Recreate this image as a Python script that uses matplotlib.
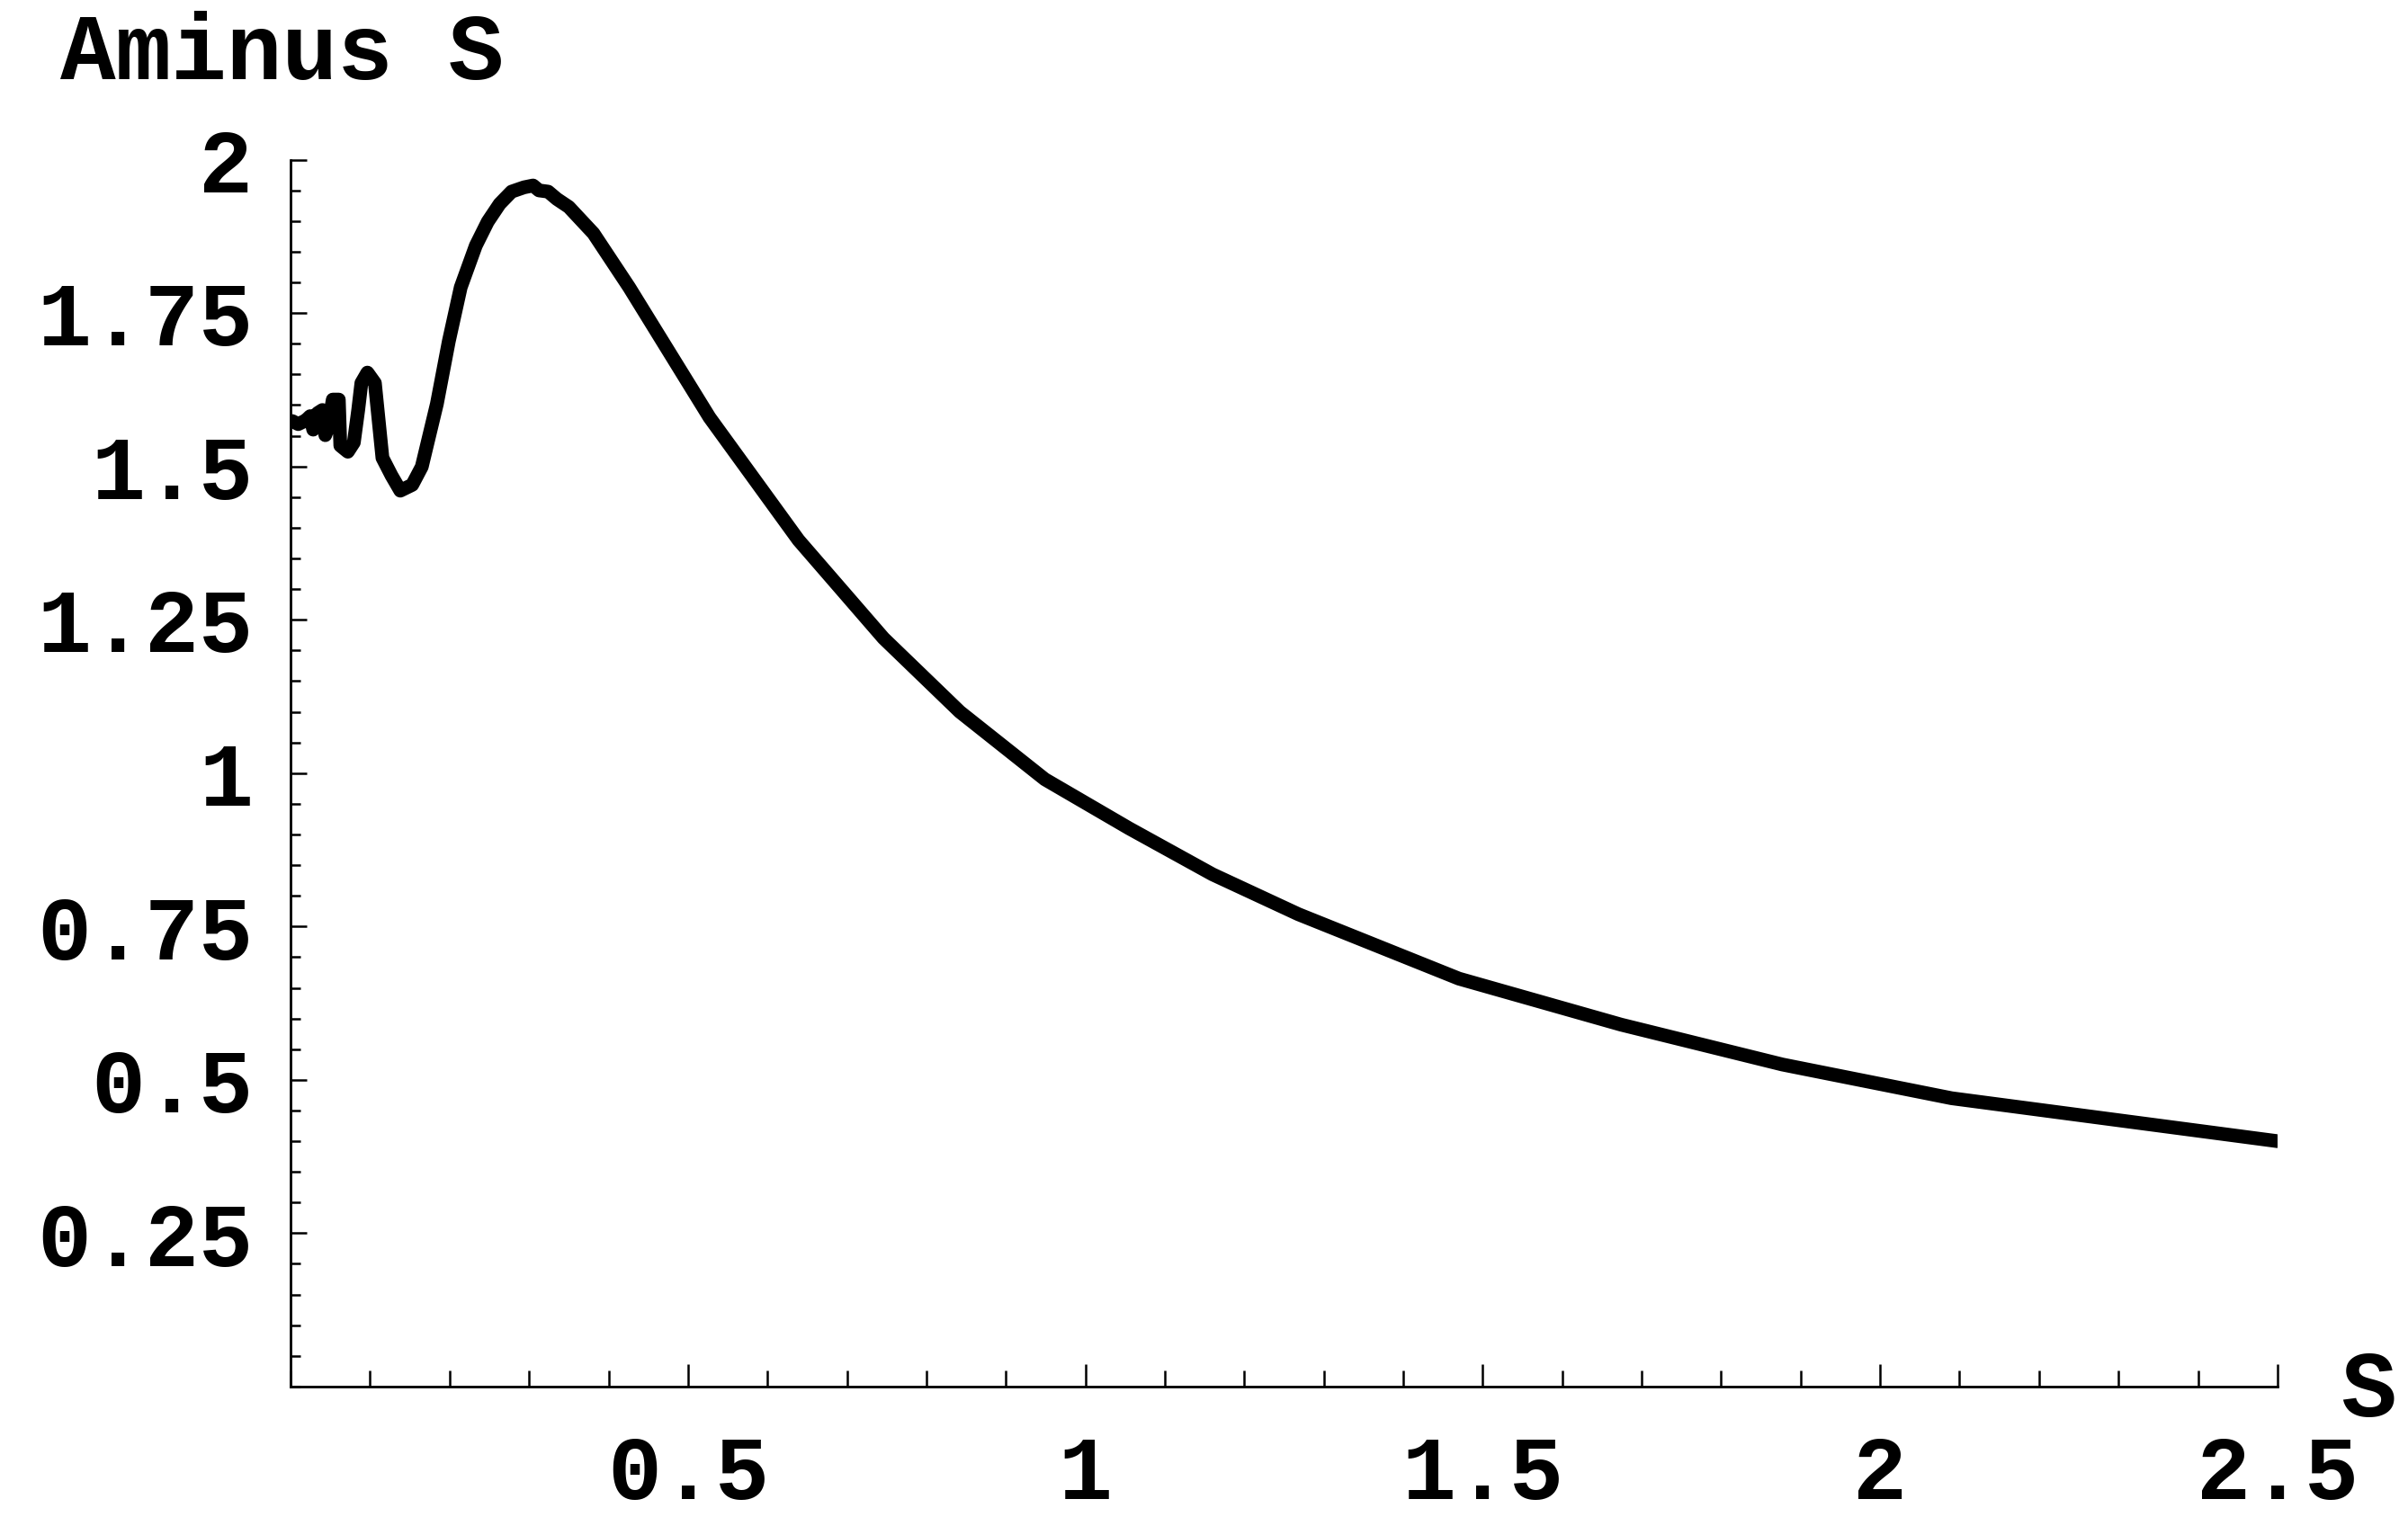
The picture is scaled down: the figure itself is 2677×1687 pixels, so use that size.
import numpy as np
import matplotlib
matplotlib.use("Agg")
import matplotlib.pyplot as plt
from matplotlib.ticker import FixedLocator, FixedFormatter, MultipleLocator

# values (S, Aminus S)
s_vals = [0.002, 0.0095, 0.019, 0.0246, 0.0284, 0.034, 0.040, 0.0436, 0.047,
          0.053, 0.0606, 0.0625, 0.072, 0.0795, 0.085, 0.089, 0.0966, 0.106,
          0.1155, 0.127, 0.138, 0.153, 0.165, 0.184, 0.199, 0.214, 0.233,
          0.248, 0.263, 0.278, 0.2936, 0.305, 0.3125, 0.324, 0.335, 0.350,
          0.381, 0.426, 0.527, 0.639, 0.746, 0.842, 0.949, 1.055, 1.16,
          1.268, 1.47, 1.674, 1.877, 2.09, 2.5]
aminus_vals = [1.574, 1.569, 1.575, 1.582, 1.560, 1.587, 1.592, 1.551, 1.563,
               1.609, 1.609, 1.534, 1.524, 1.539, 1.592, 1.636, 1.653, 1.636,
               1.514, 1.485, 1.4605, 1.470, 1.4995, 1.602, 1.704, 1.792, 1.860,
               1.899, 1.928, 1.948, 1.955, 1.958, 1.950, 1.948, 1.936, 1.923,
               1.880, 1.792, 1.58, 1.38, 1.22, 1.10, 0.99, 0.91, 0.835,
               0.77, 0.665, 0.59, 0.525, 0.47, 0.40]

x_ticks = [0.5, 1, 1.5, 2, 2.5]
x_labels = ["0.5", "1", "1.5", "2", "2.5"]
y_ticks = [0.25, 0.5, 0.75, 1, 1.25, 1.5, 1.75, 2]
y_labels = ["0.25", "0.5", "0.75", "1", "1.25", "1.5", "1.75", "2"]


def main():
    font = {"family": "Liberation Mono", "weight": "bold", "size": 74}

    fig = plt.figure(figsize=(26.77, 16.87), dpi=100)
    ax = fig.add_axes([0.1207, 0.0860, 0.8251, 0.8087])

    ax.plot(s_vals, aminus_vals, color="black", lw=11, solid_joinstyle="round",
            solid_capstyle="round")

    ax.set_xlim(0, 2.5)
    ax.set_ylim(0, 2)

    # mathematica style axes: only left and bottom, ticks inside
    for side in ["top", "right"]:
        ax.spines[side].set_visible(False)
    for side in ["left", "bottom"]:
        ax.spines[side].set_linewidth(2)

    ax.xaxis.set_major_locator(FixedLocator(x_ticks))
    ax.xaxis.set_major_formatter(FixedFormatter(x_labels))
    ax.xaxis.set_minor_locator(MultipleLocator(0.1))
    ax.yaxis.set_major_locator(FixedLocator(y_ticks))
    ax.yaxis.set_major_formatter(FixedFormatter(y_labels))
    ax.yaxis.set_minor_locator(MultipleLocator(0.05))

    ax.tick_params(which="major", direction="in", length=13, width=1.8)
    ax.tick_params(which="minor", direction="in", length=8, width=1.8)
    ax.tick_params(axis="x", which="major", length=18, pad=38)
    ax.tick_params(axis="x", which="minor", length=13)
    ax.tick_params(axis="y", pad=30)

    for lab in ax.get_xticklabels() + ax.get_yticklabels():
        lab.set_fontfamily(font["family"])
        lab.set_fontweight(font["weight"])
        lab.set_fontsize(72)

    # axis labels at the axis ends
    fig.text(67 / 2677, 1 - 88 / 1687, "Aminus S", ha="left", va="baseline",
             **font)
    fig.text(2633 / 2677, 1 - 1548 / 1687, "S", ha="center", va="center",
             **font)

    fig.savefig("out.png", dpi=100)


if __name__ == "__main__":
    main()
